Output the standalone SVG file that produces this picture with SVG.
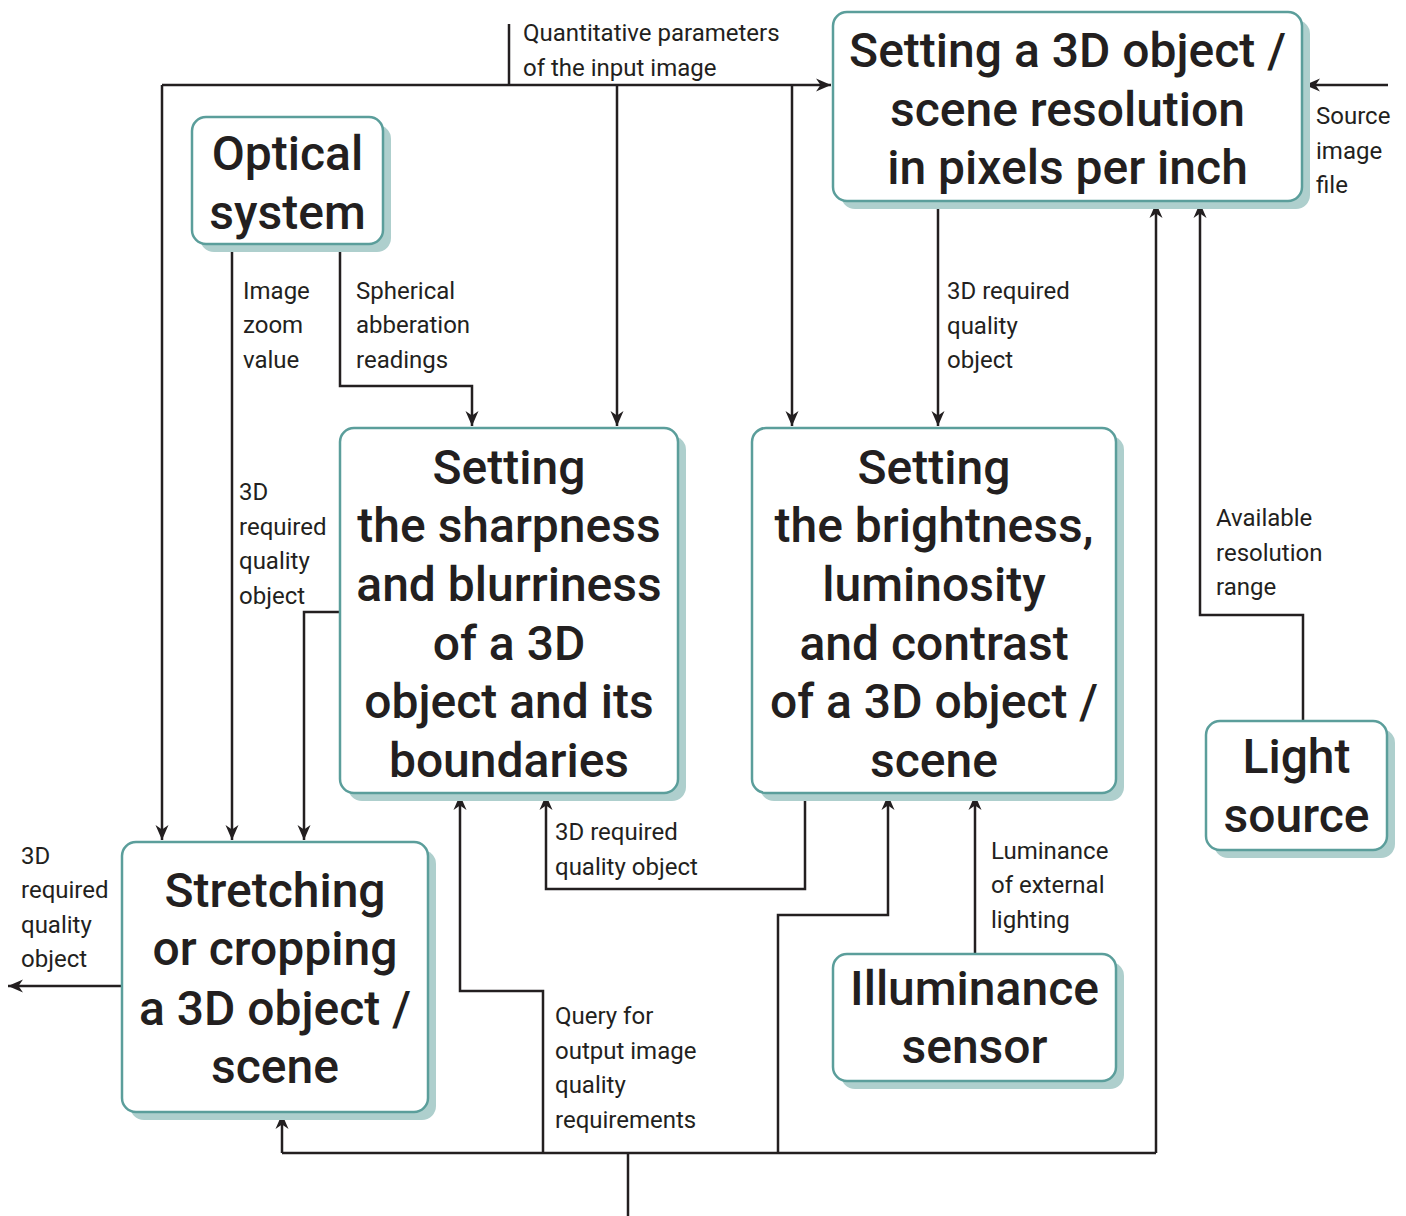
<svg xmlns="http://www.w3.org/2000/svg" width="1406" height="1216" viewBox="0 0 1406 1216">
  <style>
    .shadow { fill: #aecfcd; }
    .box { fill: #ffffff; stroke: #5b9e9b; stroke-width: 2.5; }
    .title { font-family: Roboto, "Liberation Sans", sans-serif; font-weight: 500; font-size: 48px; fill: #231f20; text-anchor: middle; }
    .label { font-family: Roboto, "Liberation Sans", sans-serif; font-size: 24px; fill: #231f20; }
    .wire { fill: none; stroke: #231f20; stroke-width: 2.5; }
    .arrow { fill: none; stroke: #231f20; stroke-width: 2.5; marker-end: url(#ah); }
  </style>
  <defs>
    <marker id="ah" viewBox="-16 -8 18 16" markerWidth="18" markerHeight="16" refX="0" refY="0" orient="auto" markerUnits="userSpaceOnUse">
      <path d="M0,0 L-15,-6.5 L-10.5,0 L-15,6.5 Z" fill="#231f20"/>
    </marker>
  </defs>
  <rect width="1406" height="1216" fill="#ffffff"/>

  <!-- connectors -->
  <g id="connectors">
    <!-- input image parameters bus -->
    <path class="arrow" d="M162,85 L831,85"/>
    <path class="arrow" d="M162,85 L162,840"/>
    <path class="wire" d="M509,24 L509,85"/>
    <path class="arrow" d="M617,85 L617,426"/>
    <path class="arrow" d="M792,85 L792,426"/>
    <!-- source image file -->
    <path class="arrow" d="M1388,85 L1305,85"/>
    <!-- optical system outputs -->
    <path class="arrow" d="M232,244 L232,840"/>
    <path class="arrow" d="M340,244 L340,386 L472,386 L472,426"/>
    <!-- sharpness to stretching -->
    <path class="arrow" d="M340,612 L304,612 L304,840"/>
    <!-- resolution to brightness -->
    <path class="arrow" d="M938,201 L938,426"/>
    <!-- light source to resolution -->
    <path class="arrow" d="M1303,721 L1303,615 L1200,615 L1200,203"/>
    <!-- quality query bus -->
    <path class="wire" d="M628,1216 L628,1153"/>
    <path class="wire" d="M282,1153 L1156,1153"/>
    <path class="arrow" d="M1156,1153 L1156,203"/>
    <path class="arrow" d="M282,1153 L282,1114"/>
    <path class="arrow" d="M543,1153 L543,991 L460,991 L460,795"/>
    <path class="arrow" d="M778,1153 L778,915 L888,915 L888,795"/>
    <!-- brightness to sharpness -->
    <path class="arrow" d="M805,793 L805,889 L546,889 L546,795"/>
    <!-- illuminance sensor to brightness -->
    <path class="arrow" d="M975,954 L975,795"/>
    <!-- final output -->
    <path class="arrow" d="M122,986 L8,986"/>
  </g>

  <!-- connector labels -->
  <g id="labels" class="label">
    <text x="523" y="41">Quantitative parameters</text>
    <text x="523" y="76">of the input image</text>
    <text x="1316" y="124">Source</text>
    <text x="1316" y="159">image</text>
    <text x="1316" y="193">file</text>
    <text x="243" y="299">Image</text>
    <text x="243" y="333">zoom</text>
    <text x="243" y="368">value</text>
    <text x="356" y="299">Spherical</text>
    <text x="356" y="333">abberation</text>
    <text x="356" y="368">readings</text>
    <text x="947" y="299">3D required</text>
    <text x="947" y="334">quality</text>
    <text x="947" y="368">object</text>
    <text x="239" y="500">3D</text>
    <text x="239" y="535">required</text>
    <text x="239" y="569">quality</text>
    <text x="239" y="604">object</text>
    <text x="1216" y="526">Available</text>
    <text x="1216" y="561">resolution</text>
    <text x="1216" y="595">range</text>
    <text x="555" y="840">3D required</text>
    <text x="555" y="875">quality object</text>
    <text x="991" y="859">Luminance</text>
    <text x="991" y="893">of external</text>
    <text x="991" y="928">lighting</text>
    <text x="21" y="864">3D</text>
    <text x="21" y="898">required</text>
    <text x="21" y="933">quality</text>
    <text x="21" y="967">object</text>
    <text x="555" y="1024">Query for</text>
    <text x="555" y="1059">output image</text>
    <text x="555" y="1093">quality</text>
    <text x="555" y="1128">requirements</text>
  </g>

  <!-- nodes -->
  <g id="optical-system">
    <rect class="shadow" x="200" y="125" width="191" height="127" rx="14"/>
    <rect class="box" x="192" y="117" width="191" height="127" rx="14"/>
    <text class="title" x="287.5" y="170">Optical</text>
    <text class="title" x="287.5" y="229">system</text>
  </g>

  <g id="resolution">
    <rect class="shadow" x="841" y="20" width="469" height="189" rx="14"/>
    <rect class="box" x="833" y="12" width="469" height="189" rx="14"/>
    <text class="title" x="1067.5" y="67">Setting a 3D object /</text>
    <text class="title" x="1067.5" y="126">scene resolution</text>
    <text class="title" x="1067.5" y="184">in pixels per inch</text>
  </g>

  <g id="sharpness">
    <rect class="shadow" x="348" y="436" width="338" height="365" rx="14"/>
    <rect class="box" x="340" y="428" width="338" height="365" rx="14"/>
    <text class="title" x="509" y="484">Setting</text>
    <text class="title" x="509" y="542">the sharpness</text>
    <text class="title" x="509" y="601">and blurriness</text>
    <text class="title" x="509" y="660">of a 3D</text>
    <text class="title" x="509" y="718">object and its</text>
    <text class="title" x="509" y="777">boundaries</text>
  </g>

  <g id="brightness">
    <rect class="shadow" x="760" y="436" width="364" height="365" rx="14"/>
    <rect class="box" x="752" y="428" width="364" height="365" rx="14"/>
    <text class="title" x="934" y="484">Setting</text>
    <text class="title" x="934" y="542">the brightness,</text>
    <text class="title" x="934" y="601">luminosity</text>
    <text class="title" x="934" y="660">and contrast</text>
    <text class="title" x="934" y="718">of a 3D object /</text>
    <text class="title" x="934" y="777">scene</text>
  </g>

  <g id="light-source">
    <rect class="shadow" x="1214" y="729" width="181" height="129" rx="14"/>
    <rect class="box" x="1206" y="721" width="181" height="129" rx="14"/>
    <text class="title" x="1296.5" y="773">Light</text>
    <text class="title" x="1296.5" y="832">source</text>
  </g>

  <g id="stretching">
    <rect class="shadow" x="130" y="850" width="306" height="270" rx="14"/>
    <rect class="box" x="122" y="842" width="306" height="270" rx="14"/>
    <text class="title" x="275" y="907">Stretching</text>
    <text class="title" x="275" y="965">or cropping</text>
    <text class="title" x="275" y="1025">a 3D object /</text>
    <text class="title" x="275" y="1083">scene</text>
  </g>

  <g id="illuminance-sensor">
    <rect class="shadow" x="841" y="962" width="283" height="127" rx="14"/>
    <rect class="box" x="833" y="954" width="283" height="127" rx="14"/>
    <text class="title" x="974.5" y="1005">Illuminance</text>
    <text class="title" x="974.5" y="1063">sensor</text>
  </g>
</svg>
